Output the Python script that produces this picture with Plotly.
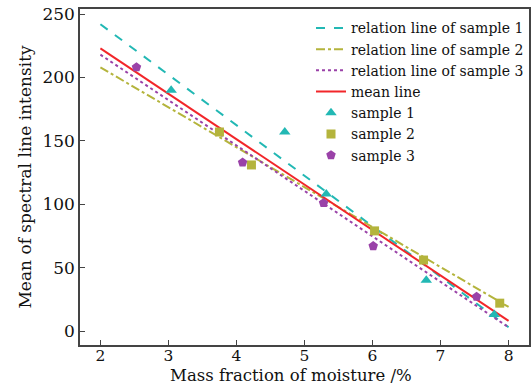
import plotly.graph_objects as go

# Relation lines (endpoints read at x=2 and x=8)
line_x = [2, 8]
rel1_y = [242, 3]
rel2_y = [208, 19]
rel3_y = [218, 3]
mean_y = [223, 8]

s1_x = [3.04, 4.71, 5.32, 6.79, 7.79]
s1_y = [190, 157, 108, 40, 13]
s2_x = [3.75, 4.22, 6.03, 6.75, 7.87]
s2_y = [157, 131, 79, 56, 22]
s3_x = [2.53, 4.09, 5.28, 6.01, 7.53]
s3_y = [208, 133, 101, 67, 27]

C1 = "#22b8b4"
C2 = "#b4b43c"
C3 = "#9a42a8"
CM = "#f2262a"

fig = go.Figure()
fig.add_trace(go.Scatter(x=line_x, y=rel1_y, mode="lines", name="relation line of sample 1",
                         line=dict(color=C1, width=2, dash="dash")))
fig.add_trace(go.Scatter(x=line_x, y=rel2_y, mode="lines", name="relation line of sample 2",
                         line=dict(color=C2, width=2, dash="dashdot")))
fig.add_trace(go.Scatter(x=line_x, y=rel3_y, mode="lines", name="relation line of sample 3",
                         line=dict(color=C3, width=2, dash="dot")))
fig.add_trace(go.Scatter(x=line_x, y=mean_y, mode="lines", name="mean line",
                         line=dict(color=CM, width=2)))
fig.add_trace(go.Scatter(x=s1_x, y=s1_y, mode="markers", name="sample 1",
                         marker=dict(symbol="triangle-up", size=10, color=C1)))
fig.add_trace(go.Scatter(x=s2_x, y=s2_y, mode="markers", name="sample 2",
                         marker=dict(symbol="square", size=9, color=C2)))
fig.add_trace(go.Scatter(x=s3_x, y=s3_y, mode="markers", name="sample 3",
                         marker=dict(symbol="pentagon", size=10, color=C3)))

font = "DejaVu Serif"
fig.update_layout(
    width=532, height=386,
    margin=dict(l=80, r=1, t=9, b=41),
    plot_bgcolor="white", paper_bgcolor="white",
    font=dict(family=font, color="#111", size=15),
    showlegend=True,
    legend=dict(x=1, y=0.99, xanchor="right", yanchor="top", bgcolor="rgba(255,255,255,0)",
                font=dict(size=14, family=font), tracegroupgap=0, itemwidth=30,
                borderwidth=0),
    xaxis=dict(range=[1.7, 8.3], tickvals=[2, 3, 4, 5, 6, 7, 8], ticks="inside", ticklen=5,
               showline=True, linecolor="#444", linewidth=1.5, mirror=True, showgrid=False,
               zeroline=False, tickfont=dict(size=15.5), ticklabelstandoff=-4),
    yaxis=dict(range=[-11, 254], tickvals=[0, 50, 100, 150, 200, 250], ticks="inside", ticklen=5,
               showline=True, linecolor="#444", linewidth=1.5, mirror=True, showgrid=False,
               zeroline=False, tickfont=dict(size=17),
               title=dict(text="Mean of spectral line intensity", font=dict(size=17), standoff=6)),
    annotations=[dict(text="Mass fraction of moisture /%", xref="paper", yref="paper",
                      x=0.47, y=0, yshift=-42, xanchor="center", yanchor="bottom",
                      showarrow=False, font=dict(size=16.5))],
)

fig.write_html("out.html")
